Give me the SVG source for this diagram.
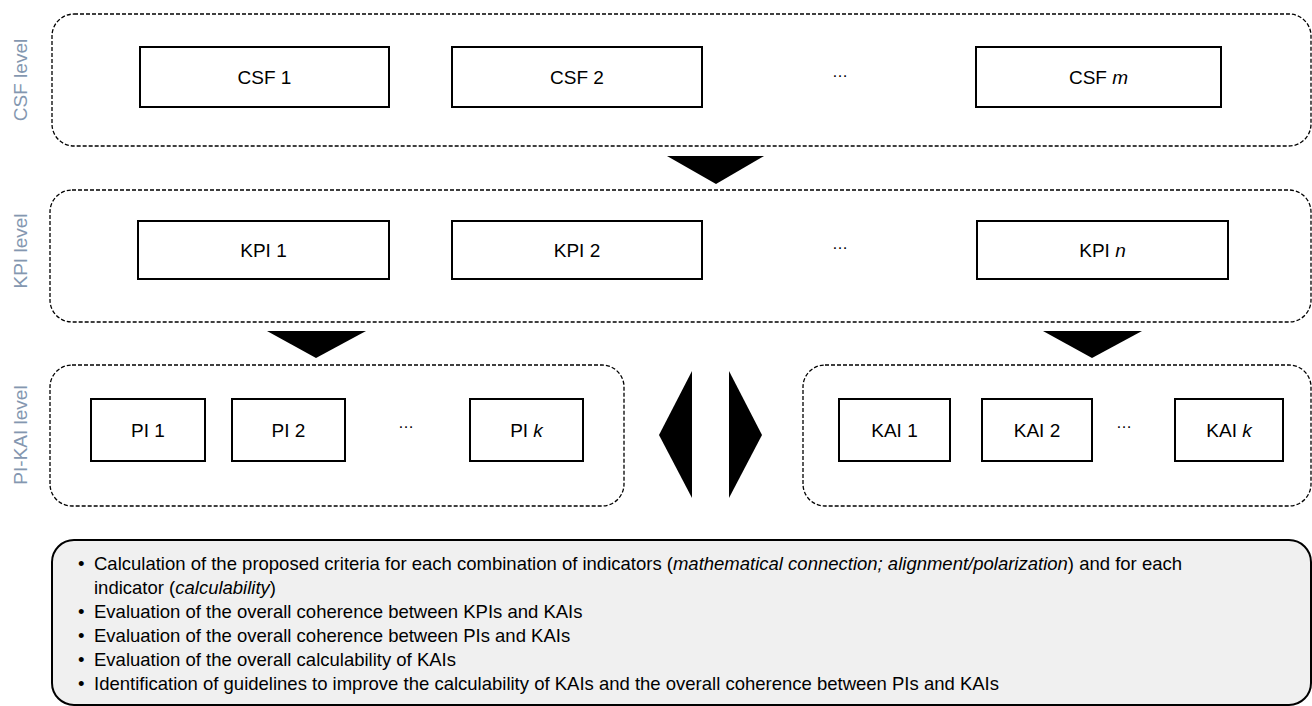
<svg xmlns="http://www.w3.org/2000/svg" width="1312" height="706" viewBox="0 0 1312 706">
<style>
.cont{fill:none;stroke:#000;stroke-width:1.3;stroke-dasharray:4 2}
.box{fill:#fff;stroke:#000;stroke-width:2}
.lbl{font-family:"Liberation Sans",Arial,sans-serif;font-size:19px;fill:#000;text-anchor:middle}
.dots{font-family:"Liberation Sans",Arial,sans-serif;font-size:16px;fill:#000;text-anchor:middle}
.lvl{font-family:"Liberation Sans",Arial,sans-serif;font-size:19px;fill:#8497b0;text-anchor:middle}
.arr{fill:#000}
.note{font-family:"Liberation Sans",Arial,sans-serif;font-size:18.5px;fill:#000}
</style>
<rect width="1312" height="706" fill="#fff"/>
<g id="levels">
<text class="lvl" transform="translate(27,80) rotate(-90)">CSF level</text>
<text class="lvl" transform="translate(27,251) rotate(-90)">KPI level</text>
<text class="lvl" transform="translate(27,435) rotate(-90)">PI-KAI level</text>
</g>
<g id="csf-level">
<rect class="cont" x="52" y="14" width="1259" height="132" rx="22"/>
</g>
<g id="kpi-level">
<rect class="cont" x="50" y="190" width="1261" height="132" rx="22"/>
</g>
<g id="pi-group">
<rect class="cont" x="50" y="365" width="574" height="141" rx="22"/>
</g>
<g id="kai-group">
<rect class="cont" x="803" y="365" width="508" height="141" rx="22"/>
</g>
<g id="csf1"><rect class="box" x="140" y="47" width="249" height="60"/><text class="lbl" x="264.5" y="84">CSF 1</text></g>
<g id="csf2"><rect class="box" x="452" y="47" width="250" height="60"/><text class="lbl" x="577" y="84">CSF 2</text></g>
<g id="csf-dots"><text class="dots" x="840" y="77">…</text></g>
<g id="csfm"><rect class="box" x="976" y="47" width="245" height="60"/><text class="lbl" x="1098.5" y="84">CSF <tspan font-style="italic">m</tspan></text></g>
<g id="kpi1"><rect class="box" x="138" y="221" width="251" height="58"/><text class="lbl" x="263.5" y="257">KPI 1</text></g>
<g id="kpi2"><rect class="box" x="452" y="221" width="250" height="58"/><text class="lbl" x="577" y="257">KPI 2</text></g>
<g id="kpi-dots"><text class="dots" x="840" y="249">…</text></g>
<g id="kpin"><rect class="box" x="977" y="221" width="251" height="58"/><text class="lbl" x="1102.5" y="257">KPI <tspan font-style="italic">n</tspan></text></g>
<g id="pi1"><rect class="box" x="91" y="399" width="114" height="62"/><text class="lbl" x="148" y="437">PI 1</text></g>
<g id="pi2"><rect class="box" x="232" y="399" width="113" height="62"/><text class="lbl" x="288.5" y="437">PI 2</text></g>
<g id="pi-dots"><text class="dots" x="406" y="428">…</text></g>
<g id="pik"><rect class="box" x="470" y="399" width="113" height="62"/><text class="lbl" x="526.5" y="437">PI <tspan font-style="italic">k</tspan></text></g>
<g id="kai1"><rect class="box" x="839" y="399" width="111" height="62"/><text class="lbl" x="894.5" y="437">KAI 1</text></g>
<g id="kai2"><rect class="box" x="982" y="399" width="110" height="62"/><text class="lbl" x="1037" y="437">KAI 2</text></g>
<g id="kai-dots"><text class="dots" x="1124" y="428">…</text></g>
<g id="kaik"><rect class="box" x="1175" y="399" width="108" height="62"/><text class="lbl" x="1229" y="437">KAI <tspan font-style="italic">k</tspan></text></g>
<g id="connectors">
<polygon class="arr" points="667,156 764,156 716,184"/>
<polygon class="arr" points="267,331 366,331 316,358"/>
<polygon class="arr" points="1043,331 1142,331 1092,358"/>
<polygon class="arr" points="692,371 659,435 692,498"/>
<polygon class="arr" points="729,371 762,435 729,498"/>
</g>
<g id="summary">
<rect x="52" y="540" width="1259" height="165" rx="22" fill="#f0f0f0" stroke="#000" stroke-width="2"/>
<g class="note">
<text x="78" y="570">•</text><text x="94" y="570">Calculation of the proposed criteria for each combination of indicators (<tspan font-style="italic">mathematical connection; alignment/polarization</tspan>) and for each</text>
<text x="94" y="594">indicator (<tspan font-style="italic">calculability</tspan>)</text>
<text x="78" y="618">•</text><text x="94" y="618">Evaluation of the overall coherence between KPIs and KAIs</text>
<text x="78" y="642">•</text><text x="94" y="642">Evaluation of the overall coherence between PIs and KAIs</text>
<text x="78" y="666">•</text><text x="94" y="666">Evaluation of the overall calculability of KAIs</text>
<text x="78" y="690">•</text><text x="94" y="690">Identification of guidelines to improve the calculability of KAIs and the overall coherence between PIs and KAIs</text>
</g>
</g>
</svg>
